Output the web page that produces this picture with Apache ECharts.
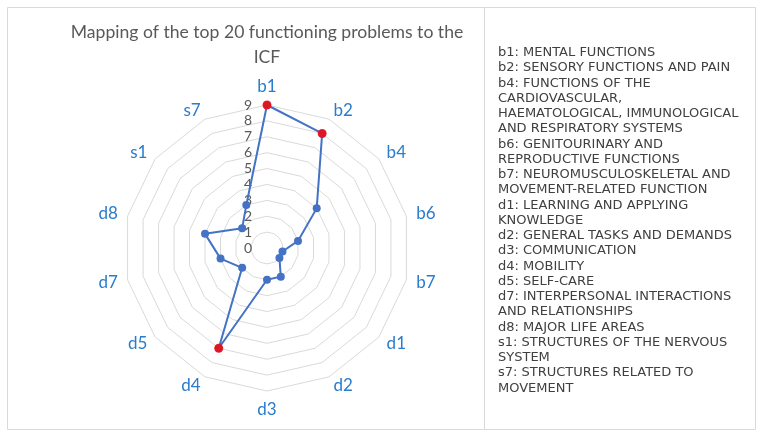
<!DOCTYPE html>
<html>
<head>
<meta charset="utf-8">
<script src="https://cdn.jsdelivr.net/npm/echarts@6/dist/echarts.min.js"></script>
<style>
html,body{margin:0;padding:0;background:#fff;}
#chart{width:761px;height:437px;}
</style>
</head>
<body>
<div id="chart"></div>
<script>
var titleText = 'Mapping of the top 20 functioning problems to the\nICF';
var indicators = ['b1','b2','b4','b6','b7','d1','d2','d3','d4','d5','d7','d8','s1','s7'];
var values = [9, 8, 4, 2, 1, 1, 2, 2, 7, 2, 3, 4, 2, 3];
var highlighted = ['b1', 'b2', 'd4'];
var axisMin = 0;
var axisMax = 9;
var legendLines = [
  'b1: MENTAL FUNCTIONS',
  'b2: SENSORY FUNCTIONS AND PAIN',
  'b4: FUNCTIONS OF THE',
  'CARDIOVASCULAR,',
  'HAEMATOLOGICAL, IMMUNOLOGICAL',
  'AND RESPIRATORY SYSTEMS',
  'b6: GENITOURINARY AND',
  'REPRODUCTIVE FUNCTIONS',
  'b7: NEUROMUSCULOSKELETAL AND',
  'MOVEMENT-RELATED FUNCTION',
  'd1: LEARNING AND APPLYING',
  'KNOWLEDGE',
  'd2: GENERAL TASKS AND DEMANDS',
  'd3: COMMUNICATION',
  'd4: MOBILITY',
  'd5: SELF-CARE',
  'd7: INTERPERSONAL INTERACTIONS',
  'AND RELATIONSHIPS',
  'd8: MAJOR LIFE AREAS',
  's1: STRUCTURES OF THE NERVOUS',
  'SYSTEM',
  's7: STRUCTURES RELATED TO',
  'MOVEMENT'
];

var CX = 267, CY = 248, R = 143;
var chart = echarts.init(document.getElementById('chart'));

// ECharts radar runs counter-clockwise; reorder so the chart reads clockwise from the top.
var order = [0];
for (var k = indicators.length - 1; k >= 1; k--) order.push(k);

var indicatorOpts = order.map(function (i, pos) {
  var o = { name: indicators[i], min: axisMin, max: axisMax };
  if (pos === 0) {
    o.axisLabel = { show: true, color: '#595959', fontSize: 14, fontFamily: 'Lato', margin: 15 };
  }
  return o;
});
var radarValues = order.map(function (i) { return values[i]; });

var redPoints = [];
indicators.forEach(function (n, i) {
  if (highlighted.indexOf(n) >= 0) redPoints.push([values[i], n]);
});

chart.setOption({
  animation: false,
  graphic: [
    { type: 'rect', shape: { x: 7.5, y: 7.5, width: 477, height: 422 }, style: { fill: 'none', stroke: '#d9d9d9', lineWidth: 1 }, z: 0 },
    { type: 'rect', shape: { x: 484.5, y: 7.5, width: 271, height: 422 }, style: { fill: 'none', stroke: '#d9d9d9', lineWidth: 1 }, z: 0 },
    { type: 'text', x: CX, y: 44.5, style: { text: titleText, textAlign: 'center', textVerticalAlign: 'middle', font: '17.6px Lato', lineHeight: 25, fill: '#595959' } },
    { type: 'text', x: 498, y: 45, style: { text: legendLines.join('\n'), textAlign: 'left', textVerticalAlign: 'top', fontFamily: 'Verdana, DejaVu Sans, sans-serif', fontSize: 13, lineHeight: 15.25, fill: '#404040' } }
  ],
  radar: {
    center: [CX, CY],
    radius: R,
    startAngle: 90,
    shape: 'polygon',
    splitNumber: 9,
    indicator: indicatorOpts,
    nameGap: 10,
    axisName: { color: '#2a7ccc', fontSize: 17, fontFamily: 'Lato' },
    axisLine: { show: false },
    axisTick: { show: false },
    splitArea: { show: false },
    splitLine: { lineStyle: { color: '#d9d9d9', width: 1 } }
  },
  polar: { center: [CX, CY], radius: R },
  angleAxis: {
    type: 'category', data: indicators, startAngle: 90, clockwise: true, boundaryGap: false,
    axisLine: { show: false }, axisTick: { show: false }, axisLabel: { show: false }, splitLine: { show: false }
  },
  radiusAxis: {
    type: 'value', min: axisMin, max: axisMax,
    axisLine: { show: false }, axisTick: { show: false }, axisLabel: { show: false }, splitLine: { show: false }
  },
  series: [
    {
      type: 'radar',
      symbol: 'circle',
      symbolSize: 8,
      lineStyle: { color: '#4472c4', width: 2 },
      itemStyle: { color: '#4472c4' },
      data: [{ value: radarValues }],
      z: 2
    },
    {
      type: 'scatter',
      coordinateSystem: 'polar',
      symbol: 'circle',
      symbolSize: 9,
      itemStyle: { color: '#ff0000' },
      data: redPoints,
      z: 5
    }
  ]
});
</script>
</body>
</html>
